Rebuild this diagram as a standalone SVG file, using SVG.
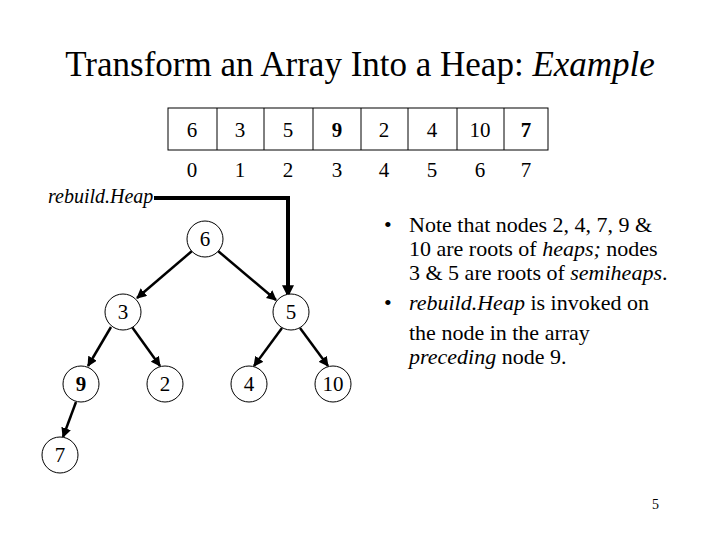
<svg xmlns="http://www.w3.org/2000/svg" width="720" height="540" viewBox="0 0 720 540">
<style>
text{font-family:"Liberation Serif",serif;fill:#000}
.c{fill:#fff;stroke:#000;stroke-width:1}
.n{font-size:21px;text-anchor:middle}
.e{stroke:#000;stroke-width:2.5;fill:none;marker-end:url(#a)}
.b{font-size:22px}
</style>
<defs><marker id="a" viewBox="0 0 10 10" refX="9" refY="5" markerWidth="4" markerHeight="4" orient="auto" markerUnits="strokeWidth"><path d="M0,0L10,5L0,10z" fill="#000"/></marker>
<marker id="b" viewBox="0 0 10 10" refX="9" refY="5" markerWidth="3" markerHeight="3" orient="auto" markerUnits="strokeWidth"><path d="M0,0L10,5L0,10z" fill="#000"/></marker></defs>
<rect width="720" height="540" fill="#fff"/>
<text x="360" y="76" font-size="35" text-anchor="middle">Transform an Array Into a Heap: <tspan font-style="italic">Example</tspan></text>
<g id="array">
<rect x="168" y="108" width="380" height="42" fill="none" stroke="#000"/>
<path d="M217 108V150M264 108V150M313 108V150M361 108V150M408 108V150M457 108V150M504 108V150" stroke="#000"/>
<g class="n"><text x="192" y="137">6</text><text x="240" y="137">3</text><text x="288" y="137">5</text><text x="337" y="137" font-weight="bold">9</text><text x="384" y="137">2</text><text x="432" y="137">4</text><text x="480" y="137">10</text><text x="526" y="137" font-weight="bold">7</text>
<text x="192" y="177">0</text><text x="240" y="177">1</text><text x="288" y="177">2</text><text x="337" y="177">3</text><text x="384" y="177">4</text><text x="432" y="177">5</text><text x="480" y="177">6</text><text x="526" y="177">7</text></g>
</g>
<text x="48" y="203" font-size="20" font-style="italic">rebuild.Heap</text>
<g id="connectors">
<path d="M154 198H288V296" stroke="#000" stroke-width="4" fill="none" marker-end="url(#b)"/>
<line class="e" x1="192" y1="251" x2="137" y2="298"/>
<line class="e" x1="218" y1="251" x2="276" y2="300"/>
<line class="e" x1="111" y1="327" x2="88" y2="366"/>
<line class="e" x1="132" y1="327" x2="160" y2="366"/>
<line class="e" x1="282" y1="328" x2="254" y2="366"/>
<line class="e" x1="300" y1="328" x2="328" y2="366"/>
<line class="e" x1="76" y1="402" x2="63" y2="437"/>
</g>
<g id="n6"><circle class="c" cx="205" cy="239" r="18"/><text class="n" x="205" y="246">6</text></g>
<g id="n3"><circle class="c" cx="123" cy="312" r="18"/><text class="n" x="123" y="319">3</text></g>
<g id="n5"><circle class="c" cx="291" cy="312" r="18"/><text class="n" x="291" y="319">5</text></g>
<g id="n9"><circle class="c" cx="81" cy="384" r="18"/><text class="n" x="81" y="391" font-weight="bold">9</text></g>
<g id="n2"><circle class="c" cx="165" cy="384" r="18"/><text class="n" x="165" y="391">2</text></g>
<g id="n4"><circle class="c" cx="249" cy="384" r="18"/><text class="n" x="249" y="391">4</text></g>
<g id="n10"><circle class="c" cx="333" cy="384" r="18"/><text class="n" x="333" y="391">10</text></g>
<g id="n7"><circle class="c" cx="60" cy="455" r="18"/><text class="n" x="60" y="462">7</text></g>
<g class="b">
<text x="384" y="232">•</text><text x="384" y="310">•</text>
<text x="409" y="232">Note that nodes 2, 4, 7, 9 &amp;</text>
<text x="409" y="256">10 are roots of <tspan font-style="italic">heaps;</tspan>  nodes</text>
<text x="409" y="280">3 &amp; 5 are roots of <tspan font-style="italic">semiheaps</tspan>.</text>
<text x="409" y="310"><tspan font-style="italic">rebuild.Heap</tspan> is invoked on</text>
<text x="409" y="340">the node in the array</text>
<text x="409" y="364"><tspan font-style="italic">preceding</tspan> node 9.</text>
</g>
<text x="652" y="509" font-size="14">5</text>
</svg>
